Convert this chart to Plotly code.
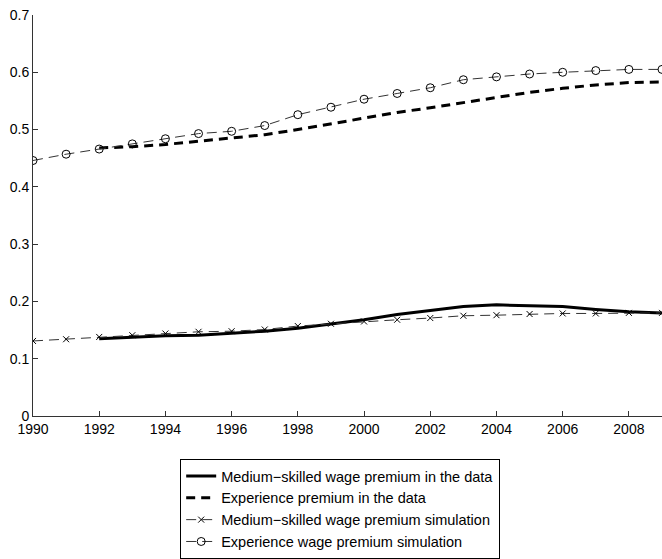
import plotly.graph_objects as go

years_sim = list(range(1990, 2010))
years_data = list(range(1992, 2010))

medium_data = [0.135, 0.138, 0.140, 0.141, 0.144, 0.148, 0.153, 0.160, 0.168, 0.177,
               0.184, 0.191, 0.194, 0.193, 0.191, 0.186, 0.182, 0.180]
experience_data = [0.468, 0.470, 0.474, 0.480, 0.485, 0.491, 0.500, 0.510, 0.520, 0.530,
                   0.538, 0.547, 0.556, 0.565, 0.572, 0.578, 0.582, 0.583]
medium_sim = [0.131, 0.134, 0.138, 0.141, 0.144, 0.147, 0.148, 0.151, 0.157, 0.161,
              0.165, 0.168, 0.171, 0.175, 0.176, 0.178, 0.179, 0.179, 0.180, 0.180]
experience_sim = [0.446, 0.457, 0.466, 0.475, 0.484, 0.493, 0.497, 0.507, 0.526, 0.539,
                  0.553, 0.563, 0.573, 0.587, 0.592, 0.597, 0.600, 0.603, 0.605, 0.605]

names = ["Medium\u2212skilled wage premium in the data",
         "Experience premium in the data",
         "Medium\u2212skilled wage premium simulation",
         "Experience wage premium simulation"]

fig = go.Figure()
fig.add_trace(go.Scatter(x=years_data, y=medium_data, mode="lines", name=names[0],
                         line=dict(color="black", width=3)))
fig.add_trace(go.Scatter(x=years_data, y=experience_data, mode="lines", name=names[1],
                         line=dict(color="black", width=3, dash="9px,6px")))
fig.add_trace(go.Scatter(x=years_sim, y=medium_sim, mode="lines+markers", name=names[2],
                         line=dict(color="#333", width=1, dash="10px,6px"),
                         marker=dict(symbol="x-thin-open", size=6,
                                     line=dict(color="black", width=1), color="black")))
fig.add_trace(go.Scatter(x=years_sim, y=experience_sim, mode="lines+markers", name=names[3],
                         line=dict(color="#333", width=1, dash="10px,6px"),
                         marker=dict(symbol="circle-open", size=8,
                                     line=dict(color="black", width=1), color="black")))

fig.update_layout(
    width=662, height=559,
    margin=dict(l=33, r=0, t=15, b=138),
    paper_bgcolor="white", plot_bgcolor="white",
    font=dict(family="Liberation Sans, Arial, sans-serif", size=14, color="black"),
    legend=dict(x=0.234, y=-0.108, xanchor="left", yanchor="top",
                bgcolor="white", bordercolor="black", borderwidth=1,
                font=dict(size=14.5), itemwidth=30, tracegroupgap=0),
    showlegend=True,
)
fig.update_xaxes(range=[1990, 2009], tickvals=list(range(1990, 2009, 2)),
                 ticks="inside", ticklen=5, tickcolor="#333",
                 showline=True, linecolor="#333", linewidth=1,
                 showgrid=False, zeroline=False, automargin=False,
                 ticklabeloverflow="allow")
fig.update_yaxes(range=[0, 0.7], tickvals=[0, 0.1, 0.2, 0.3, 0.4, 0.5, 0.6, 0.7],
                 ticktext=["0", "0.1", "0.2", "0.3", "0.4", "0.5", "0.6", "0.7"],
                 ticks="inside", ticklen=5, tickcolor="#333",
                 showline=True, linecolor="#333", linewidth=1,
                 showgrid=False, zeroline=False, automargin=False,
                 ticklabeloverflow="allow")

fig.write_html("out.html", config={"displayModeBar": False},
               post_script="document.body.style.margin='0';document.body.style.overflow='hidden';")
